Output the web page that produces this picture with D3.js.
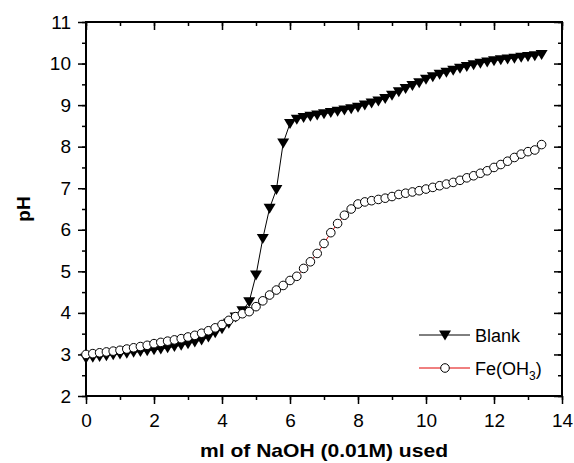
<!DOCTYPE html>
<html>
<head>
<meta charset="utf-8">
<script src="https://cdn.jsdelivr.net/npm/d3@7/dist/d3.min.js"></script>
<style>
  html, body { margin: 0; padding: 0; background: #fff; }
  svg { display: block; }
  text { font-family: "Liberation Sans", Arial, sans-serif; }
</style>
</head>
<body>
<svg id="chart" width="574" height="463"></svg>
<script>
// Titration volumes (ml of 0.01 M NaOH), 0.2 ml steps
const volume = [
  0.0, 0.2, 0.4, 0.6, 0.8, 1.0, 1.2, 1.4, 1.6, 1.8,
  2.0, 2.2, 2.4, 2.6, 2.8, 3.0, 3.2, 3.4, 3.6, 3.8,
  4.0, 4.2, 4.4, 4.6, 4.8, 5.0, 5.2, 5.4, 5.6, 5.8,
  6.0, 6.2, 6.4, 6.6, 6.8, 7.0, 7.2, 7.4, 7.6, 7.8,
  8.0, 8.2, 8.4, 8.6, 8.8, 9.0, 9.2, 9.4, 9.6, 9.8,
  10.0, 10.2, 10.4, 10.6, 10.8, 11.0, 11.2, 11.4, 11.6, 11.8,
  12.0, 12.2, 12.4, 12.6, 12.8, 13.0, 13.2, 13.4
];

// pH of the blank solution
const phBlank = [
  2.91, 2.93, 2.95, 2.97, 2.99, 3.01, 3.03, 3.05, 3.07, 3.09,
  3.11, 3.13, 3.16, 3.19, 3.22, 3.26, 3.30, 3.35, 3.42, 3.52,
  3.62, 3.75, 3.90, 4.05, 4.27, 4.91, 5.79, 6.52, 6.97, 8.09,
  8.56, 8.66, 8.70, 8.73, 8.76, 8.79, 8.82, 8.85, 8.88, 8.91,
  8.95, 9.00, 9.05, 9.10, 9.16, 9.24, 9.32, 9.40, 9.47, 9.54,
  9.62, 9.68, 9.74, 9.79, 9.84, 9.89, 9.93, 9.97, 10.01, 10.04,
  10.07, 10.09, 10.11, 10.13, 10.15, 10.17, 10.19, 10.22
];

// pH with Fe(OH3) present
const phFe = [
  3.00, 3.02, 3.04, 3.06, 3.08, 3.10, 3.13, 3.16, 3.19, 3.22,
  3.26, 3.29, 3.32, 3.35, 3.38, 3.42, 3.46, 3.51, 3.57, 3.64,
  3.72, 3.82, 3.91, 3.98, 4.03, 4.15, 4.29, 4.43, 4.55, 4.66,
  4.78, 4.88, 5.07, 5.23, 5.43, 5.67, 5.93, 6.15, 6.35, 6.50,
  6.62, 6.67, 6.70, 6.73, 6.76, 6.80, 6.85, 6.88, 6.91, 6.94,
  6.98, 7.02, 7.06, 7.10, 7.14, 7.19, 7.25, 7.30, 7.36, 7.42,
  7.50, 7.57, 7.65, 7.74, 7.82, 7.88, 7.92, 8.05
];

const xTicks = [0, 2, 4, 6, 8, 10, 12, 14];
const yTicks = [2, 3, 4, 5, 6, 7, 8, 9, 10, 11];

const svg = d3.select("#chart");
const m = { left: 86, right: 562, top: 22, bottom: 396 };

const x = d3.scaleLinear().domain([0, 14]).range([m.left, m.right]);
const y = d3.scaleLinear().domain([2, 11]).range([m.bottom, m.top]);

const blank = volume.map((v, i) => ({ x: v, y: phBlank[i] }));
const fe = volume.map((v, i) => ({ x: v, y: phFe[i] }));

const minorX = d3.range(0, 14.01, 1);
const minorY = d3.range(2, 11.01, 0.5);

// Axes: outer ticks on bottom/left, inner ticks on top/right
function styleAxis(g) {
  g.selectAll(".domain").remove();
  g.selectAll(".tick line").attr("stroke", "#000").attr("stroke-width", 1.5);
  g.selectAll("text").attr("font-size", 19).attr("fill", "#000");
}

svg.append("g").attr("transform", `translate(0,${m.bottom})`)
  .call(d3.axisBottom(x).tickValues(minorX).tickSize(4).tickFormat(""))
  .call(styleAxis);
svg.append("g").attr("transform", `translate(0,${m.bottom})`)
  .call(d3.axisBottom(x).tickValues(xTicks).tickSize(8).tickPadding(10).tickFormat(d3.format("d")))
  .call(styleAxis);

svg.append("g").attr("transform", `translate(${m.left},0)`)
  .call(d3.axisLeft(y).tickValues(minorY).tickSize(4).tickFormat(""))
  .call(styleAxis);
svg.append("g").attr("transform", `translate(${m.left},0)`)
  .call(d3.axisLeft(y).tickValues(yTicks).tickSize(8).tickPadding(7).tickFormat(d3.format("d")))
  .call(styleAxis);

svg.append("g").attr("transform", `translate(0,${m.top})`)
  .call(d3.axisTop(x).tickValues(minorX).tickSize(-4).tickFormat(""))
  .call(styleAxis);
svg.append("g").attr("transform", `translate(0,${m.top})`)
  .call(d3.axisTop(x).tickValues(xTicks).tickSize(-8).tickFormat(""))
  .call(styleAxis);

svg.append("g").attr("transform", `translate(${m.right},0)`)
  .call(d3.axisRight(y).tickValues(minorY).tickSize(-4).tickFormat(""))
  .call(styleAxis);
svg.append("g").attr("transform", `translate(${m.right},0)`)
  .call(d3.axisRight(y).tickValues(yTicks).tickSize(-8).tickFormat(""))
  .call(styleAxis);

// Plot frame
svg.append("rect")
  .attr("x", m.left).attr("y", m.top)
  .attr("width", m.right - m.left).attr("height", m.bottom - m.top)
  .attr("fill", "none").attr("stroke", "#000").attr("stroke-width", 2);

// Axis titles
svg.append("text")
  .attr("x", (m.left + m.right) / 2).attr("y", 457)
  .attr("text-anchor", "middle")
  .attr("font-size", 19).attr("font-weight", "bold")
  .attr("textLength", 248).attr("lengthAdjust", "spacingAndGlyphs")
  .text("ml of NaOH (0.01M) used");

svg.append("text")
  .attr("transform", `translate(30,${(m.top + m.bottom) / 2}) rotate(-90)`)
  .attr("text-anchor", "middle")
  .attr("font-size", 19).attr("font-weight", "bold")
  .text("pH");

const line = d3.line().x(d => x(d.x)).y(d => y(d.y));

// Marker shapes
const triPath = "M-6,-4.5L6,-4.5L0,5.5Z";

// Fe(OH3) series: thin red line with open circles
svg.append("path").datum(fe)
  .attr("d", line).attr("fill", "none")
  .attr("stroke", "#e00000").attr("stroke-width", 1);

// Blank series: black line with filled down-triangles
svg.append("path").datum(blank)
  .attr("d", line).attr("fill", "none")
  .attr("stroke", "#000").attr("stroke-width", 1);

svg.append("g").selectAll("path").data(blank).join("path")
  .attr("transform", d => `translate(${x(d.x)},${y(d.y)})`)
  .attr("d", triPath).attr("fill", "#000");

svg.append("g").selectAll("circle").data(fe).join("circle")
  .attr("cx", d => x(d.x)).attr("cy", d => y(d.y)).attr("r", 4.3)
  .attr("fill", "#fff").attr("stroke", "#000").attr("stroke-width", 1);

// Legend
const legend = svg.append("g");
const lx0 = 419, lx1 = 470, lmx = 445;
const ly1 = 335, ly2 = 368;

legend.append("line").attr("x1", lx0).attr("x2", lx1).attr("y1", ly1).attr("y2", ly1)
  .attr("stroke", "#000").attr("stroke-width", 1);
legend.append("path").attr("transform", `translate(${lmx},${ly1})`)
  .attr("d", triPath).attr("fill", "#000");
legend.append("text").attr("x", 475).attr("y", ly1 + 6.5)
  .attr("font-size", 18).text("Blank");

legend.append("line").attr("x1", lx0).attr("x2", lx1).attr("y1", ly2).attr("y2", ly2)
  .attr("stroke", "#e00000").attr("stroke-width", 1);
legend.append("circle").attr("cx", lmx).attr("cy", ly2).attr("r", 4.3)
  .attr("fill", "#fff").attr("stroke", "#000").attr("stroke-width", 1);
const feText = legend.append("text").attr("x", 475).attr("y", ly2 + 6.5).attr("font-size", 18);
feText.append("tspan").text("Fe(OH");
feText.append("tspan").attr("font-size", 12).attr("dy", 5).text("3");
feText.append("tspan").attr("dy", -5).text(")");
</script>
</body>
</html>
